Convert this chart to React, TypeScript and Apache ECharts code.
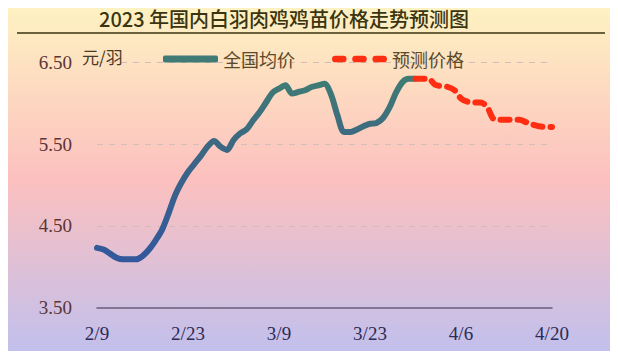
import React, { useEffect, useRef } from "react";
import * as echarts from "echarts";

const title = "2023 年国内白羽肉鸡鸡苗价格走势预测图";
const unitName = "元/羽";
const seriesNames = ["全国均价", "预测价格"];

const dates = [
  "2/9", "2/10", "2/11", "2/12", "2/13", "2/14", "2/15", "2/16", "2/17", "2/18",
  "2/19", "2/20", "2/21", "2/22", "2/23", "2/24", "2/25", "2/26", "2/27", "2/28",
  "3/1", "3/2", "3/3", "3/4", "3/5", "3/6", "3/7", "3/8", "3/9", "3/10",
  "3/11", "3/12", "3/13", "3/14", "3/15", "3/16", "3/17", "3/18", "3/19", "3/20",
  "3/21", "3/22", "3/23", "3/24", "3/25", "3/26", "3/27", "3/28", "3/29", "3/30",
  "3/31", "4/1", "4/2", "4/3", "4/4", "4/5", "4/6", "4/7", "4/8", "4/9",
  "4/10", "4/11", "4/12", "4/13", "4/14", "4/15", "4/16", "4/17", "4/18", "4/19",
  "4/20",
];

const actual = [
  4.23, 4.21, 4.16, 4.11, 4.09, 4.09, 4.09, 4.13, 4.21, 4.32,
  4.45, 4.65, 4.87, 5.03, 5.16, 5.26, 5.36, 5.47, 5.54, 5.47,
  5.43, 5.55, 5.63, 5.68, 5.79, 5.89, 6.01, 6.13, 6.18, 6.22,
  6.12, 6.14, 6.16, 6.20, 6.22, 6.24, 6.11, 5.85, 5.65, 5.65,
  5.68, 5.72, 5.75, 5.76, 5.82, 5.95, 6.13, 6.26, 6.30, 6.30,
];

const forecastValues = [
  6.30, 6.30, 6.30, 6.23, 6.21, 6.20, 6.16, 6.06, 6.02, 6.01,
  6.01, 5.96, 5.81, 5.80, 5.80, 5.80, 5.80, 5.77, 5.74, 5.72,
  5.71, 5.71,
];

const forecastStart = 49;

export default function App() {
  const ref = useRef<HTMLDivElement>(null);

  useEffect(() => {
    if (!ref.current) return;
    const chart = echarts.init(ref.current, null, { renderer: "svg" });

    const forecast: (number | null)[] = dates.map((_, i) =>
      i < forecastStart ? null : forecastValues[i - forecastStart]
    );

    const serifFont = "serif";
    const cjkFont = "Noto Sans CJK SC, sans-serif";

    const dashIcon =
      "path://M3,0h7a3,3 0 0 1 0,6h-7a3,3 0 0 1 0,-6z" +
      "M21,0h7a3,3 0 0 1 0,6h-7a3,3 0 0 1 0,-6z" +
      "M39,0h7a3,3 0 0 1 0,6h-7a3,3 0 0 1 0,-6z";

    chart.setOption({
      animation: false,
      backgroundColor: new echarts.graphic.LinearGradient(0, 0, 0, 1, [
        { offset: 0, color: "#fef4c2" },
        { offset: 0.5, color: "#fcc0bf" },
        { offset: 1, color: "#bfc0ef" },
      ]),
      title: {
        text: title,
        left: 94,
        top: 3,
        textStyle: {
          fontFamily: cjkFont,
          fontSize: 20,
          fontWeight: 500,
          color: "#3a3510",
        },
      },
      graphic: [
        {
          type: "line",
          shape: { x1: 17, y1: 33, x2: 605, y2: 33 },
          style: { stroke: "#3a3212", lineWidth: 1.5 },
        },
      ],
      legend: {
        left: 158,
        top: 45,
        itemWidth: 55,
        itemHeight: 7,
        itemGap: 37,
        textStyle: { fontFamily: cjkFont, fontSize: 18, color: "#5a4a2a" },
        data: [
          { name: seriesNames[0], icon: "roundRect" },
          { name: seriesNames[1], icon: dashIcon },
        ],
      },
      grid: { left: 97, right: 66, top: 62.5, bottom: 51.5 },
      xAxis: {
        type: "category",
        data: dates,
        boundaryGap: false,
        axisLine: { lineStyle: { color: "#6b5a7c", width: 1.5 } },
        axisTick: { show: false },
        axisLabel: {
          interval: 13,
          margin: 16,
          fontFamily: serifFont,
          fontSize: 19,
          color: "#2e2a55",
        },
        splitLine: { show: false },
      },
      yAxis: {
        type: "value",
        min: 3.5,
        max: 6.5,
        interval: 1,
        name: unitName,
        nameLocation: "end",
        nameGap: 0,
        nameTextStyle: {
          fontFamily: cjkFont,
          fontSize: 17,
          color: "#4a3a28",
          align: "left",
          verticalAlign: "bottom",
          padding: [0, 0, -2, -15],
        },
        axisLine: { show: false },
        axisTick: { show: false },
        axisLabel: {
          margin: 25,
          fontFamily: serifFont,
          fontSize: 19,
          color: "#5a3535",
          formatter: (v: number) => v.toFixed(2),
        },
        splitLine: {
          lineStyle: { color: "#d4bdb8", type: [6, 6], width: 1.2 },
        },
      },
      series: [
        {
          name: seriesNames[0],
          type: "line",
          data: actual,
          symbol: "none",
          smooth: 0.3,
          z: 2,
          lineStyle: {
            width: 6,
            cap: "round",
            join: "round",
            color: new echarts.graphic.LinearGradient(0, 0, 0, 1, [
              { offset: 0, color: "#3f7c74" },
              { offset: 0.35, color: "#3d6882" },
              { offset: 1, color: "#33589c" },
            ]),
          },
          itemStyle: { color: "#3f7a76" },
        },
        {
          name: seriesNames[1],
          type: "line",
          data: forecast,
          symbol: "none",
          smooth: 0.3,
          z: 3,
          lineStyle: {
            width: 6,
            color: "#ff2d12",
            type: [9, 8],
            cap: "round",
            join: "round",
          },
          itemStyle: { color: "#ff2d12" },
        },
      ],
    });

    return () => chart.dispose();
  }, []);

  return <div ref={ref} style={{ width: 618, height: 359, margin: -8 }} />;
}
